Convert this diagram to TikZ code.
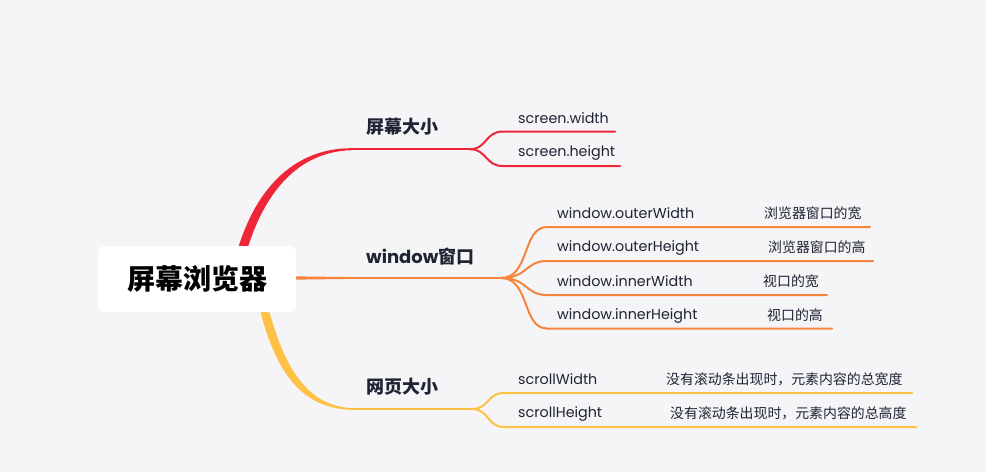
\documentclass[tikz,border=0pt]{standalone}
\usepackage{fontspec}
\setmainfont{Poppins}
\newfontfamily\cjk{Noto Sans CJK SC}
\definecolor{bg}{HTML}{F5F5F7}
\definecolor{cred}{HTML}{EE2638}
\definecolor{corange}{HTML}{F5843C}
\definecolor{cyellow}{HTML}{FFC145}
\definecolor{ink}{HTML}{1E2433}
\begin{document}
\begin{tikzpicture}[x=1pt,y=-1pt,
  lbl/.style={inner sep=0pt,text=ink,font=\fontsize{14.3}{16}\selectfont},
  desc/.style={inner sep=0pt,text=ink,font=\cjk\fontsize{13.9}{16}\selectfont},
  mainlbl/.style={inner sep=0pt,text=ink,font=\bfseries\fontsize{18}{20}\selectfont},
  thin/.style={line width=2pt,line cap=round}]
\fill[bg] (0,0) rectangle (986,472);
\useasboundingbox (0,0) rectangle (986,472);
% thick tapered trunks
\fill[cred] (238.5,247) .. controls (258,184) and (298,147.8) .. (352,148.2)
  -- (352,150.2) .. controls (302,151.2) and (267,187) .. (248,247) -- cycle;
\fill[cyellow] (260.5,312) .. controls (276,372) and (302,410.2) .. (355,409.9)
  -- (355,408.1) .. controls (308,408) and (285,368) .. (269.5,312) -- cycle;
\fill[corange] (290,276.3) -- (345,277) -- (345,279) -- (290,279.7) -- cycle;
% root
\node[fill=white,rounded corners=7pt,minimum width=198pt,minimum height=66pt,inner sep=0pt,
  text=black,font=\cjk\bfseries\fontsize{28}{31}\selectfont] (root) at (197,279) {屏幕浏览器};
% coordinates
\coordinate (rs) at (350,149.2);
\coordinate (rb) at (470,149.2);
\coordinate (os) at (345,278);
\coordinate (ob) at (501,278);
\coordinate (ys) at (353,409);
\coordinate (yb) at (472,409);
% main labels
\node[mainlbl,anchor=west] (l1) at (366,126.5) {\cjk 屏幕大小};
\node[mainlbl,anchor=west] (l2) at (366,256.5) {window\cjk 窗口};
\node[mainlbl,anchor=west] (l3) at (366,386.5) {\cjk 网页大小};
% branch lines
\draw[cred,thin] (rs) -- (rb);
\draw[corange,thin] (os) -- (ob);
\draw[cyellow,thin] (ys) -- (yb);
% red children
\node[lbl,anchor=west] (s1) at (518,118.5) {screen.width};
\node[lbl,anchor=west] (s2) at (518,152.5) {screen.height};
\coordinate (s1e) at (615,131.5);
\coordinate (s2e) at (620,166);
\draw[cred,thin] (rb) .. controls (487,149.2) and (485,131.5) .. (503,131.5) -- (s1e);
\draw[cred,thin] (rb) .. controls (487,149.2) and (485,166) .. (503,166) -- (s2e);
% orange children
\node[lbl,anchor=west] (w1) at (557,213.5) {window.outerWidth};
\node[lbl,anchor=west] (w2) at (557,247.5) {window.outerHeight};
\node[lbl,anchor=west] (w3) at (557,281.5) {window.innerWidth};
\node[lbl,anchor=west] (w4) at (557,315.5) {window.innerHeight};
\node[desc,anchor=west] (d1) at (764,213) {浏览器窗口的宽};
\node[desc,anchor=west] (d2) at (768,247) {浏览器窗口的高};
\node[desc,anchor=west] (d3) at (763,281) {视口的宽};
\node[desc,anchor=west] (d4) at (767,315) {视口的高};
\coordinate (w1e) at (870,227);
\coordinate (w2e) at (873,261);
\coordinate (w3e) at (827,295);
\coordinate (w4e) at (832,328.5);
\draw[corange,thin] (ob) .. controls (530,278) and (522,227) .. (547,227) -- (w1e);
\draw[corange,thin] (ob) .. controls (528,278) and (525,261) .. (547,261) -- (w2e);
\draw[corange,thin] (ob) .. controls (528,278) and (525,295) .. (547,295) -- (w3e);
\draw[corange,thin] (ob) .. controls (530,278) and (522,328.5) .. (547,328.5) -- (w4e);
% yellow children
\node[lbl,anchor=west] (c1) at (518,379.5) {scrollWidth};
\node[lbl,anchor=west] (c2) at (518,413.5) {scrollHeight};
\node[desc,anchor=west] (e1) at (666,379) {没有滚动条出现时，元素内容的总宽度};
\node[desc,anchor=west] (e2) at (670,413) {没有滚动条出现时，元素内容的总高度};
\coordinate (c1e) at (912,393);
\coordinate (c2e) at (916,427);
\draw[cyellow,thin] (yb) .. controls (489,409) and (487,393) .. (504,393) -- (c1e);
\draw[cyellow,thin] (yb) .. controls (489,409) and (487,427) .. (504,427) -- (c2e);
\end{tikzpicture}
\end{document}
